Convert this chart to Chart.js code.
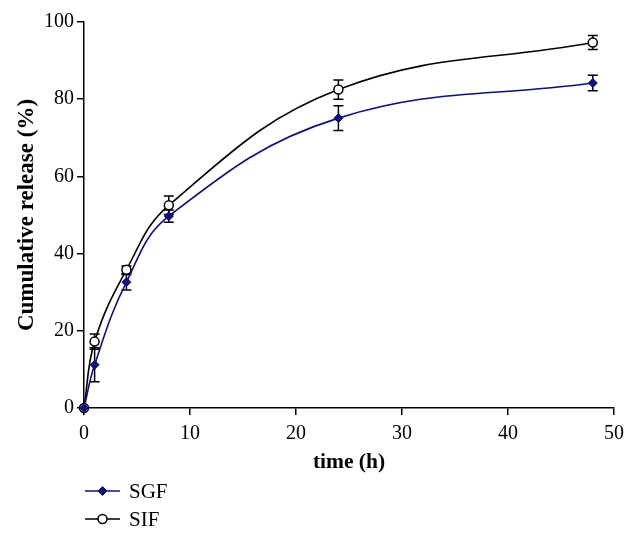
<!DOCTYPE html>
<html>
<head>
<meta charset="utf-8">
<script src="https://cdn.jsdelivr.net/npm/chart.js@4/dist/chart.umd.min.js"></script>
<style>
    html, body { margin: 0; padding: 0; background: #fff; }
    #wrap { width: 632px; height: 538px; }
</style>
</head>
<body>
<div id="wrap"><canvas id="chart" width="632" height="538"></canvas></div>
<script>
// time points (h)
const times = [0, 1, 4, 8, 24, 48];

// cumulative release (%)
const sgfValues = [0, 11.2, 32.6, 49.7, 75.1, 84.2];
const sifValues = [0, 17.2, 35.8, 52.5, 82.5, 94.7];

// error bars (+/-)
const sgfErrors = [0, 4.4, 2.0, 1.6, 3.2, 2.0];
const sifErrors = [0, 2.0, 1.0, 2.4, 2.5, 1.8];

const xTicks = [0, 10, 20, 30, 40, 50];
const yTicks = [0, 20, 40, 60, 80, 100];

const SERIF = '"Liberation Serif", "DejaVu Serif", serif';
const NAVY = '#10107a';

function toPoints(values) {
    return times.map((t, i) => ({ x: t, y: values[i] }));
}

// draw the +/- bars from the error arrays
const errorBars = {
    id: 'errorBars',
    beforeDatasetsDraw(chart) {
        const ctx = chart.ctx;
        const xs = chart.scales.x;
        const ys = chart.scales.y;
        const sets = [sgfErrors, sifErrors];
        ctx.save();
        ctx.strokeStyle = '#000';
        ctx.lineWidth = 1.5;
        chart.data.datasets.forEach((ds, di) => {
            ds.data.forEach((p, i) => {
                const e = sets[di][i];
                if (!e) return;
                const px = xs.getPixelForValue(p.x);
                const top = ys.getPixelForValue(p.y + e);
                const bot = ys.getPixelForValue(p.y - e);
                ctx.beginPath();
                ctx.moveTo(px, top); ctx.lineTo(px, bot);
                ctx.moveTo(px - 5, top); ctx.lineTo(px + 5, top);
                ctx.moveTo(px - 5, bot); ctx.lineTo(px + 5, bot);
                ctx.stroke();
            });
        });
        ctx.restore();
    }
};

// stacked legend under the plot, left side
const stackedLegend = {
    id: 'stackedLegend',
    afterDraw(chart) {
        const ctx = chart.ctx;
        const rows = [491, 519];
        ctx.save();
        chart.data.datasets.forEach((ds, i) => {
            const y = rows[i];
            ctx.strokeStyle = ds.borderColor;
            ctx.lineWidth = ds.borderWidth;
            ctx.beginPath();
            ctx.moveTo(85, y); ctx.lineTo(120, y);
            ctx.stroke();
            ctx.fillStyle = ds.pointBackgroundColor;
            ctx.strokeStyle = ds.pointBorderColor;
            ctx.lineWidth = ds.pointBorderWidth;
            ctx.beginPath();
            const r = ds.pointRadius;
            if (ds.pointStyle === 'circle') {
                ctx.arc(102.5, y, r, 0, Math.PI * 2);
            } else {
                ctx.moveTo(102.5, y - r); ctx.lineTo(102.5 + r, y);
                ctx.lineTo(102.5, y + r); ctx.lineTo(102.5 - r, y);
                ctx.closePath();
            }
            ctx.fill();
            ctx.stroke();
            ctx.fillStyle = '#000';
            ctx.font = '21px ' + SERIF;
            ctx.textBaseline = 'middle';
            ctx.textAlign = 'left';
            ctx.fillText(ds.label, 129, y + 1);
        });
        ctx.restore();
    }
};

new Chart(document.getElementById('chart'), {
    type: 'line',
    data: {
        datasets: [{
            label: 'SGF',
            data: toPoints(sgfValues),
            borderColor: NAVY,
            borderWidth: 1.6,
            pointStyle: 'rectRot',
            pointRadius: 4.5,
            pointBackgroundColor: NAVY,
            pointBorderColor: NAVY,
            pointBorderWidth: 1,
            tension: 0.4,
            clip: false
        }, {
            label: 'SIF',
            data: toPoints(sifValues),
            borderColor: '#000',
            borderWidth: 1.6,
            pointStyle: 'circle',
            pointRadius: 4.5,
            pointBackgroundColor: '#fff',
            pointBorderColor: '#000',
            pointBorderWidth: 1.5,
            tension: 0.4,
            clip: false
        }]
    },
    options: {
        responsive: false,
        animation: false,
        layout: { padding: { left: 0, top: 22, right: 18, bottom: 63 } },
        plugins: {
            legend: { display: false },
            tooltip: { enabled: false }
        },
        scales: {
            x: {
                type: 'linear',
                min: 0,
                max: 50,
                afterFit: (s) => { s.height = 67; },
                afterBuildTicks: (s) => { s.ticks = xTicks.map(v => ({ value: v })); },
                border: { display: true, color: '#000', width: 1.5 },
                grid: { drawOnChartArea: false, drawTicks: true, tickLength: 7, color: '#000', lineWidth: 1.5 },
                ticks: { color: '#000', padding: 7, font: { family: SERIF, size: 20 } },
                title: {
                    display: true,
                    text: 'time (h)',
                    color: '#000',
                    padding: { top: 0, bottom: 0 },
                    font: { family: SERIF, size: 21.5, weight: 'bold' }
                }
            },
            y: {
                min: 0,
                max: 100,
                afterFit: (s) => { s.width = 84; },
                afterBuildTicks: (s) => { s.ticks = yTicks.map(v => ({ value: v })); },
                border: { display: true, color: '#000', width: 1.5 },
                grid: { drawOnChartArea: false, drawTicks: true, tickLength: 7, color: '#000', lineWidth: 1.5 },
                ticks: { color: '#000', padding: 3, font: { family: SERIF, size: 20 } },
                title: {
                    display: true,
                    text: 'Cumulative release (%)',
                    color: '#000',
                    padding: { top: 13, bottom: 0 },
                    font: { family: SERIF, size: 23, weight: 'bold' }
                }
            }
        }
    },
    plugins: [errorBars, stackedLegend]
});
</script>
</body>
</html>
